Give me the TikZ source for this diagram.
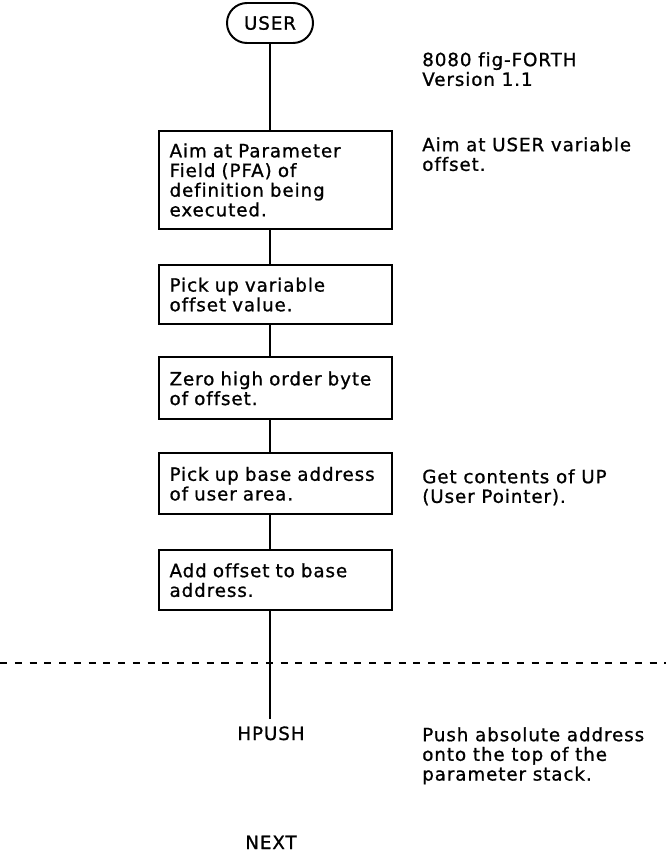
\documentclass[tikz,border=0pt]{standalone}
\usepackage{fontspec}
\setmainfont{DejaVu Sans}[LetterSpace=5, Ligatures=CommonOff, FakeBold=1]
\usetikzlibrary{positioning}

\begin{document}
\begin{tikzpicture}[
    x=0.025cm, y=-0.025cm,
    font=\fontsize{13}{14}\selectfont,
    terminal/.style={draw, line width=1.4pt, rounded corners=0.5cm, minimum width=2.15cm, minimum height=1cm},
    stepbox/.style={draw, line width=1.4pt, align=left, text width=5.3cm, inner xsep=0.27cm, minimum height=1.52cm},
    note/.style={align=left, anchor=north west, inner sep=0pt},
    flow/.style={line width=1.4pt}
]
\useasboundingbox (0,0) rectangle (666,863);
\node[terminal] (user) at (270,23) {USER};
\node[stepbox, minimum height=2.45cm, below=2.15cm of user, xshift=0.14cm] (s1) {Aim at Parameter\\Field (PFA) of\\definition being\\executed.};
\node[stepbox, minimum height=1.48cm, below=0.85cm of s1] (s2) {Pick up variable\\offset value.};
\node[stepbox, minimum height=1.55cm, below=0.78cm of s2] (s3) {Zero high order byte\\of offset.};
\node[stepbox, below=0.8cm of s3] (s4) {Pick up base address\\of user area.};
\node[stepbox, minimum height=1.5cm, below=0.85cm of s4] (s5) {Add offset to base\\address.};
\node[anchor=base, inner ysep=5pt] (hpush) at (271,740) {HPUSH};
\node[anchor=base] (next) at (271,849) {NEXT};
% comments on the right
\node[note] (ver) at (422,52) {8080 fig-FORTH\\Version 1.1};
\node[note] (c1) at (422,137) {Aim at USER variable\\offset.};
\node[note] (c4) at (422,469) {Get contents of UP\\(User Pointer).};
\node[note] (c6) at (422,727) {Push absolute address\\onto the top of the\\parameter stack.};
\draw[flow] (user) -- (user |- s1.north);
\draw[flow] (s1.south -| user) -- (user |- s2.north);
\draw[flow] (s2.south -| user) -- (user |- s3.north);
\draw[flow] (s3.south -| user) -- (user |- s4.north);
\draw[flow] (s4.south -| user) -- (user |- s5.north);
\draw[flow] (s5.south -| user) -- (user |- hpush.north);
\draw[line width=1.2pt, dash pattern=on 5pt off 5.5pt] (0,663) -- (666,663);
\end{tikzpicture}
\end{document}
